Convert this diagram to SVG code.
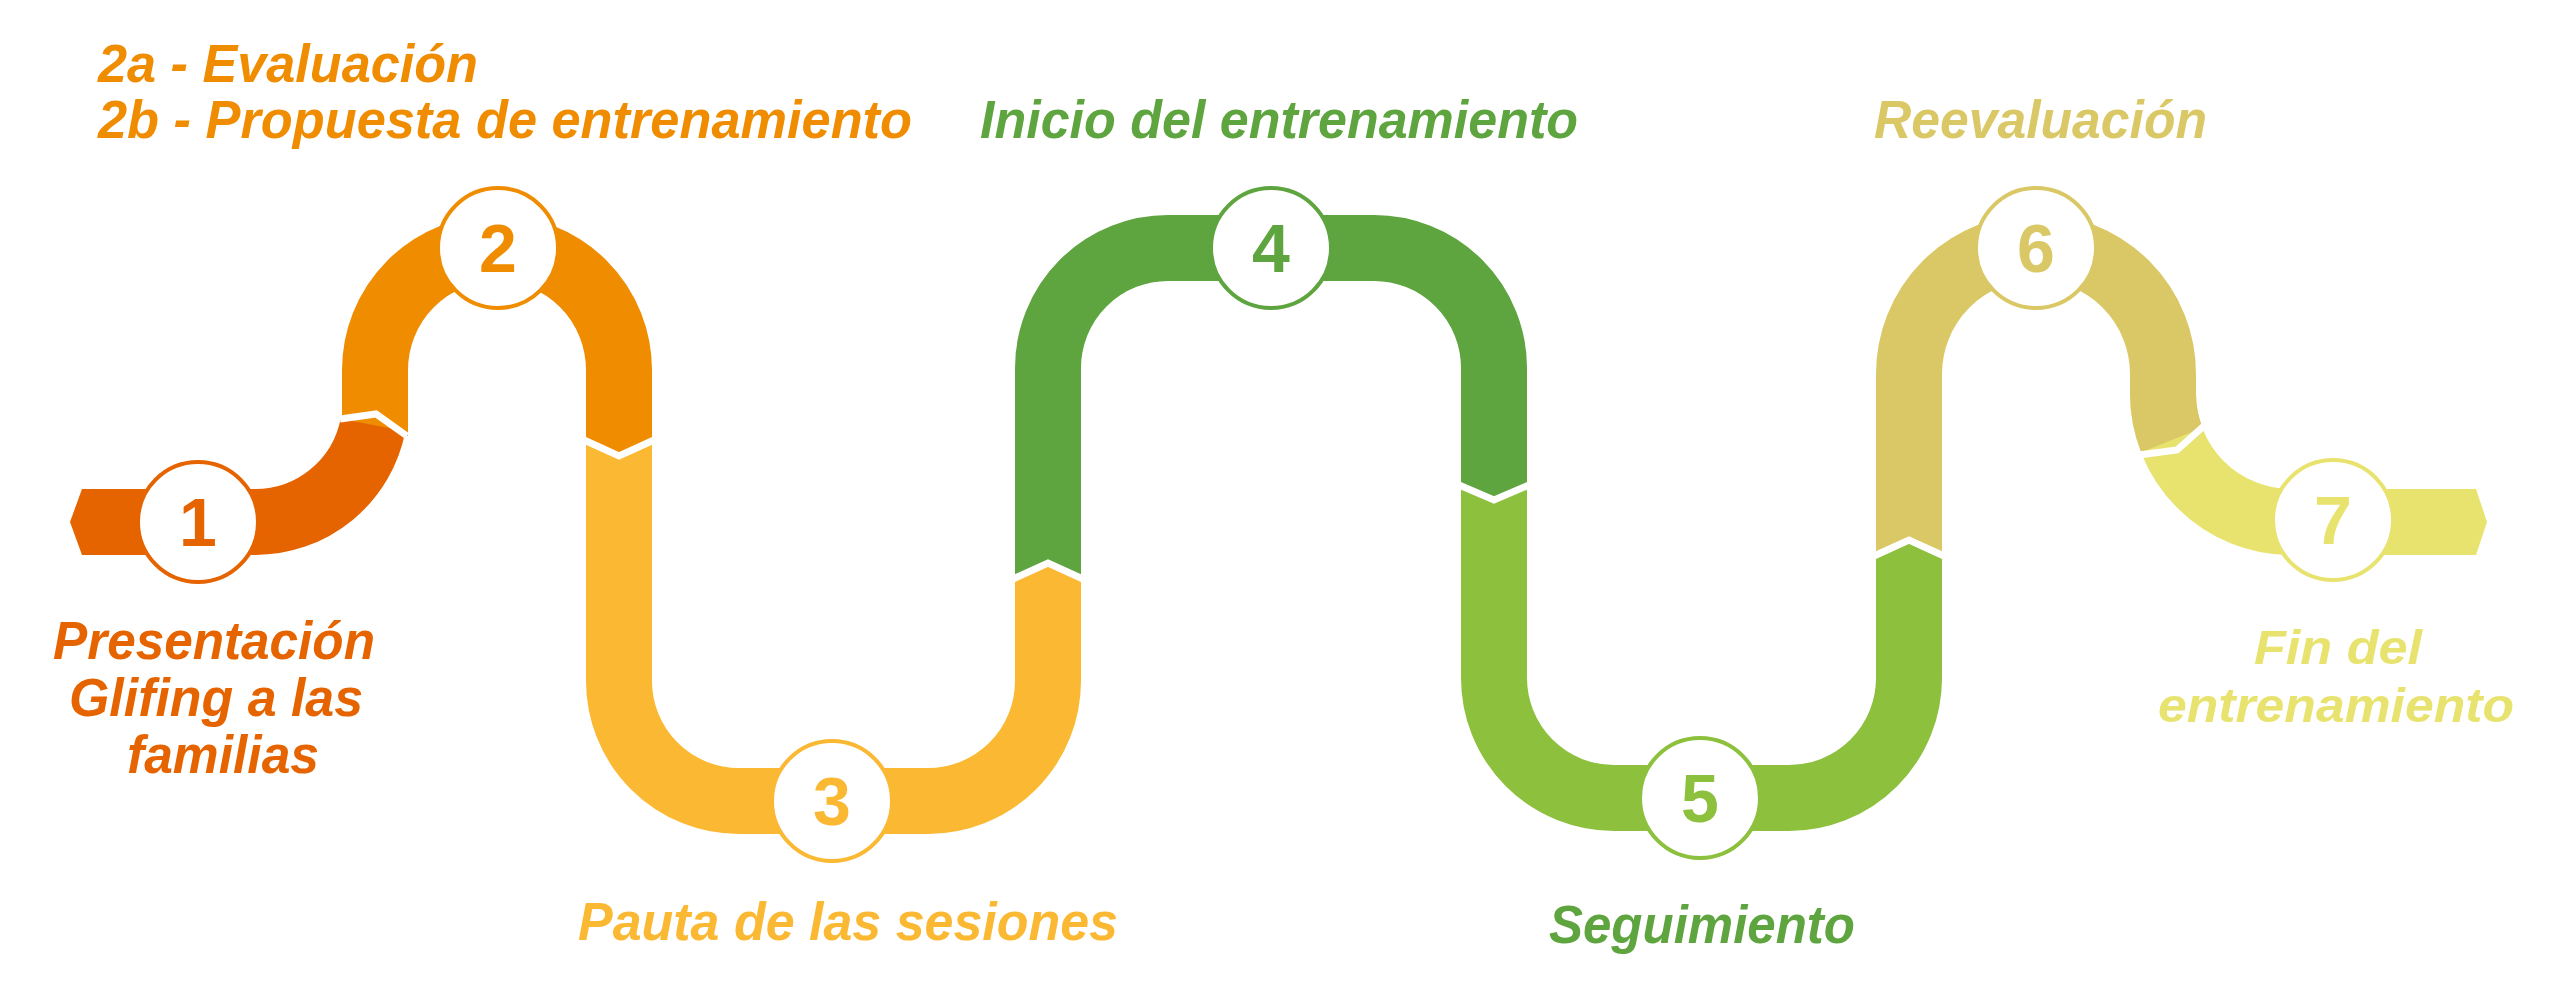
<svg xmlns="http://www.w3.org/2000/svg" width="2560" height="989" viewBox="0 0 2560 989">
<style>
.seg{fill:none;stroke-width:66;stroke-linecap:butt}
.cut{fill:none;stroke:#fff;stroke-width:7;stroke-linejoin:miter}
.node circle{fill:#fff;stroke-width:4}
.num{font-family:"Liberation Sans",Arial,sans-serif;font-weight:bold;font-size:68px;text-anchor:middle}
.lbl{font-family:"Liberation Sans",Arial,sans-serif;font-weight:bold;font-style:italic;font-size:54px}
.sm{font-size:48px}
</style>
<rect width="2560" height="989" fill="#fff"/>
<g id="connectors">
<path class="seg" stroke="#F08C00" d="M375 436 V370 A122 122 0 0 1 619 370 V440"/>
<path class="seg" stroke="#E66400" d="M82 522 H255 A120 120 0 0 0 373 425"/>
<polygon fill="#E66400" points="70,522 82,489 82,555"/>
<path class="cut" d="M340 419 L376 414 L407 436"/>
<path class="seg" stroke="#FBB832" d="M619 440 V681 A120 120 0 0 0 739 801 H928 A120 120 0 0 0 1048 681 V578"/>
<polygon fill="#F08C00" points="586,440 619,455 652,440"/>
<path class="cut" d="M584 440 L619 456 L654 440"/>
<path class="seg" stroke="#5EA43F" d="M1048 578 V368 A120 120 0 0 1 1168 248 H1374 A120 120 0 0 1 1494 368 V485"/>
<polygon fill="#FBB832" points="1015,578 1048,563 1081,578"/>
<path class="cut" d="M1013 579 L1048 563 L1083 579"/>
<path class="seg" stroke="#8DC03C" d="M1494 485 V678 A120 120 0 0 0 1614 798 H1789 A120 120 0 0 0 1909 678 V555"/>
<polygon fill="#5EA43F" points="1461,485 1494,499 1527,485"/>
<path class="cut" d="M1459 485 L1494 500 L1529 485"/>
<path class="seg" stroke="#E8E36E" d="M2163 394 A128 128 0 0 0 2291 522 H2476"/>
<polygon fill="#E8E36E" points="2487,522 2476,489 2476,555"/>
<path class="seg" stroke="#DAC866" d="M1909 555 V374 A127 127 0 0 1 2163 374 V394 A128 128 0 0 0 2172 440"/>
<polygon fill="#8DC03C" points="1876,555 1909,540 1942,555"/>
<path class="cut" d="M1874 556 L1909 540 L1944 556"/>
<path class="cut" d="M2139 455 L2177 450 L2205 425"/>
</g>
<g id="n1" class="node"><circle cx="198" cy="522" r="60" stroke="#E66400"/><text class="num" x="198" y="546" fill="#E66400">1</text></g>
<g id="n2" class="node"><circle cx="498" cy="248" r="60" stroke="#F08C00"/><text class="num" x="498" y="272" fill="#F08C00">2</text></g>
<g id="n3" class="node"><circle cx="832" cy="801" r="60" stroke="#FBB832"/><text class="num" x="832" y="825" fill="#FBB832">3</text></g>
<g id="n4" class="node"><circle cx="1271" cy="248" r="60" stroke="#5EA43F"/><text class="num" x="1271" y="272" fill="#5EA43F">4</text></g>
<g id="n5" class="node"><circle cx="1700" cy="798" r="60" stroke="#8DC03C"/><text class="num" x="1700" y="822" fill="#8DC03C">5</text></g>
<g id="n6" class="node"><circle cx="2036" cy="248" r="60" stroke="#DAC866"/><text class="num" x="2036" y="272" fill="#DAC866">6</text></g>
<g id="n7" class="node"><circle cx="2333" cy="520" r="60" stroke="#E8E36E"/><text class="num" x="2333" y="544" fill="#E8E36E">7</text></g>
<g id="labels">
<text class="lbl" fill="#F08C00" x="98" y="82" textLength="380" lengthAdjust="spacingAndGlyphs">2a - Evaluación</text>
<text class="lbl" fill="#F08C00" x="98" y="138" textLength="814" lengthAdjust="spacingAndGlyphs">2b - Propuesta de entrenamiento</text>
<text class="lbl" fill="#5EA43F" x="980" y="138" textLength="598" lengthAdjust="spacingAndGlyphs">Inicio del entrenamiento</text>
<text class="lbl" fill="#DAC866" x="1874" y="138" textLength="333" lengthAdjust="spacingAndGlyphs">Reevaluación</text>
<text class="lbl" fill="#E66400" x="53" y="659" textLength="322" lengthAdjust="spacingAndGlyphs">Presentación</text>
<text class="lbl" fill="#E66400" x="69" y="716" textLength="294" lengthAdjust="spacingAndGlyphs">Glifing a las</text>
<text class="lbl" fill="#E66400" x="127" y="773" textLength="192" lengthAdjust="spacingAndGlyphs">familias</text>
<text class="lbl" fill="#FBB832" x="578" y="940" textLength="540" lengthAdjust="spacingAndGlyphs">Pauta de las sesiones</text>
<text class="lbl" fill="#5EA43F" x="1549" y="943" textLength="306" lengthAdjust="spacingAndGlyphs">Seguimiento</text>
<text class="lbl sm" fill="#E8E36E" x="2254" y="664" textLength="168" lengthAdjust="spacingAndGlyphs">Fin del</text>
<text class="lbl sm" fill="#E8E36E" x="2158" y="722" textLength="356" lengthAdjust="spacingAndGlyphs">entrenamiento</text>
</g>
</svg>
